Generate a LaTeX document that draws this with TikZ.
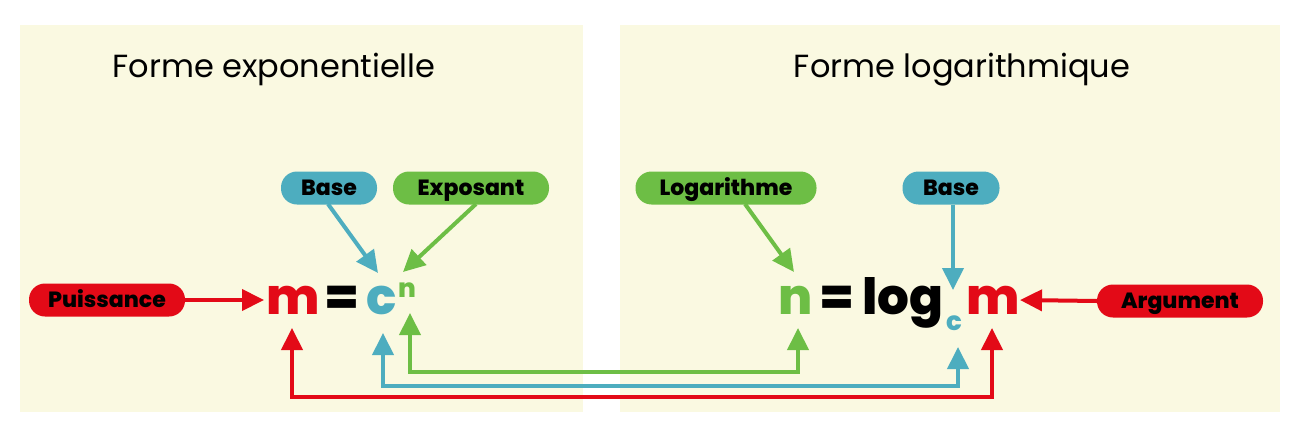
\documentclass[tikz,border=0pt]{standalone}
\usepackage{fontspec}
\setmainfont{Poppins}
\newfontfamily\heavyfont{Poppins ExtraBold}
\usetikzlibrary{arrows.meta}
\definecolor{cream}{HTML}{FAF9E1}
\definecolor{cred}{HTML}{E30A17}
\definecolor{cblue}{HTML}{4DADBF}
\definecolor{cgreen}{HTML}{6DBE45}
\tikzset{
  pill/.style={fill=#1, rounded corners=16pt, minimum height=33pt, inner sep=0pt, text height=15.5pt, text depth=0pt, font=\fontsize{22}{24}\heavyfont, text=black},
  title/.style={font=\fontsize{32}{36}\selectfont, anchor=base},
  glyph/.style={font=\fontsize{50}{54}\heavyfont, anchor=base, inner sep=0pt},
  small/.style={font=\fontsize{26}{28}\heavyfont, anchor=base, inner sep=0pt},
  conn/.style={draw=#1, line width=4pt, -{Triangle[length=22pt,width=21pt]}},
  conn2/.style={draw=#1, line width=4pt, {Triangle[length=22pt,width=21pt]}-{Triangle[length=22pt,width=21pt]}},
}
\begin{document}
\begin{tikzpicture}[x=1pt,y=-1pt]
\useasboundingbox (0,0) rectangle (1290,423);
\fill[cream] (20,25) rectangle (583,412);
\fill[cream] (620,25) rectangle (1280,412);
\node[title] (t1) at (274,77) {Forme exponentielle};
\node[title] (t2) at (962,77) {Forme logarithmique};
% pills
\node[pill=cblue, minimum width=96pt] (baseL) at (329,188) {Base};
\node[pill=cgreen, minimum width=156pt] (expo) at (471,188) {Exposant};
\node[pill=cred, minimum width=156pt] (puis) at (107,300) {Puissance};
\node[pill=cgreen, minimum width=181pt] (loga) at (726,188) {Logarithme};
\node[pill=cblue, minimum width=97pt] (baseR) at (951,188) {Base};
\node[pill=cred, minimum width=166pt] (argu) at (1180,301) {Argument};
% left equation
\node[glyph, text=cred] (mL) at (293,314) {m};
\node[glyph] (eqL) at (342,314) {=};
\node[glyph, text=cblue] (cL) at (382,314) {c};
\node[small, text=cgreen] (nL) at (407,297) {n};
% right equation
\node[glyph, text=cgreen] (nR) at (796,314) {n};
\node[glyph] (eqR) at (837,314) {=};
\node[glyph] (logR) at (903,314) {log};
\node[small, text=cblue] (cR) at (954,330) {c};
\node[glyph, text=cred] (mR) at (993,314) {m};
% arrow tips
\coordinate (pmL) at (264,300);
\coordinate (pmR) at (1020,300);
\coordinate (pcL) at (378,273);
\coordinate (pnL) at (403,272);
\coordinate (pnR) at (794,272);
\coordinate (pcR) at (953,290);
\draw[conn=cred] (puis.east) -- (pmL);
\draw[conn=cred] (argu.west) -- (pmR);
\draw[conn=cblue] (328,204) -- (pcL);
\draw[conn=cgreen] (476,204) -- (pnL);
\draw[conn=cgreen] (745,204) -- (pnR);
\draw[conn=cblue] (baseR.south -| pcR) -- (pcR);
% loops
\coordinate (rL) at (292,328);
\coordinate (rR) at (992,328);
\coordinate (bL) at (383,333);
\coordinate (bR) at (958,347);
\coordinate (gL) at (410,313);
\coordinate (gR) at (798,328);
\draw[conn2=cred] (rL) -- (292,397) -- (992,397) -- (rR);
\draw[conn2=cblue] (bL) -- (383,386) -- (958,386) -- (bR);
\draw[conn2=cgreen] (gL) -- (410,372) -- (798,372) -- (gR);
\end{tikzpicture}
\end{document}
